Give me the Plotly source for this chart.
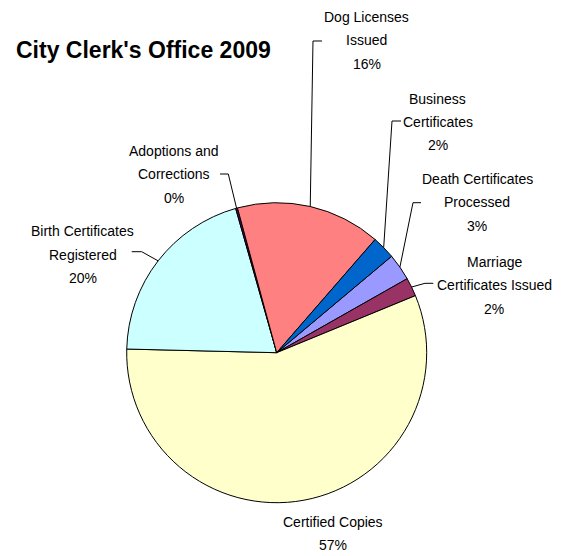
import plotly.graph_objects as go
import math

# ---- data (clockwise order as drawn) ----
categories = [
    "Death Certificates<br>Processed",
    "Marriage<br>Certificates Issued",
    "Certified Copies",
    "Birth Certificates<br>Registered",
    "Adoptions and<br>Corrections",
    "Dog Licenses<br>Issued",
    "Business<br>Certificates",
]
values = [2.9, 2.0, 56.6, 20.2, 0.2, 15.6, 2.5]
colors = ["#9999FF", "#993366", "#FFFFCC", "#CCFFFF", "#660066", "#FF8080", "#0066CC"]
title_text = "City Clerk's Office 2009"

# ---- layout (pixels) ----
W, H = 566, 556
CX, CY, R = 276.7, 352.7, 150.0
ROTATION = 50.0
FONT = "Liberation Sans, Arial, sans-serif"
LINE_H = 23.3

# label top-line centre (px) and leader elbow/tick points (px), per category
label_top = [
    (477, 179), (494, 262), (332.5, 522), (82.5, 231.5), (174.2, 151), (366.7, 17), (438, 98.5),
]
leader = [
    [(413, 202.7), (421, 202.7)],
    [(425, 283.3), (433.3, 283.3)],
    None,
    [(141.7, 251.7), (131.7, 251.7)],
    [(228.3, 174), (220, 174)],
    [(313, 41), (322, 41)],
    [(392, 121), (401, 121)],
]


def px(x):
    return x / W


def py(y):
    return 1 - y / H


fig = go.Figure()
fig.add_trace(go.Pie(
    labels=[c.replace("<br>", " ") for c in categories],
    values=values,
    sort=False,
    direction="clockwise",
    rotation=ROTATION,
    marker=dict(colors=colors, line=dict(color="black", width=1)),
    textinfo="none",
    hoverinfo="label+percent",
    showlegend=False,
    domain=dict(x=[px(CX - R), px(CX + R)], y=[py(CY + R), py(CY - R)]),
))

total = sum(values)
annotations = []
shapes = []
cum = 0.0
for cat, v, lp, ld in zip(categories, values, label_top, leader):
    mid = math.radians(ROTATION + (cum + v / 2) / total * 360)
    cum += v
    pct = round(v / total * 100)
    lines = cat.split("<br>") + [f"{pct}%"]
    for i, ln in enumerate(lines):
        annotations.append(dict(
            x=px(lp[0]), y=py(lp[1] + i * LINE_H), xref="paper", yref="paper",
            text=ln, showarrow=False, align="center",
            xanchor="center", yanchor="middle",
            font=dict(family=FONT, size=14, color="black"),
        ))
    if ld:
        ex, ey = CX + R * math.sin(mid), CY - R * math.cos(mid)
        pts = [(ex, ey)] + ld
        path = "M " + " L ".join(f"{px(a):.5f},{py(b):.5f}" for a, b in pts)
        shapes.append(dict(type="path", path=path, xref="paper", yref="paper",
                           line=dict(color="black", width=1)))

annotations.append(dict(
    x=px(14), y=py(50), xref="paper", yref="paper", text=f"<b>{title_text}</b>",
    showarrow=False, xanchor="left", yanchor="middle",
    font=dict(family=FONT, size=23, color="black"),
))

fig.update_layout(
    width=W, height=H, margin=dict(l=0, r=0, t=0, b=0),
    paper_bgcolor="white", plot_bgcolor="white",
    annotations=annotations, shapes=shapes,
)
fig.write_html("out.html")
